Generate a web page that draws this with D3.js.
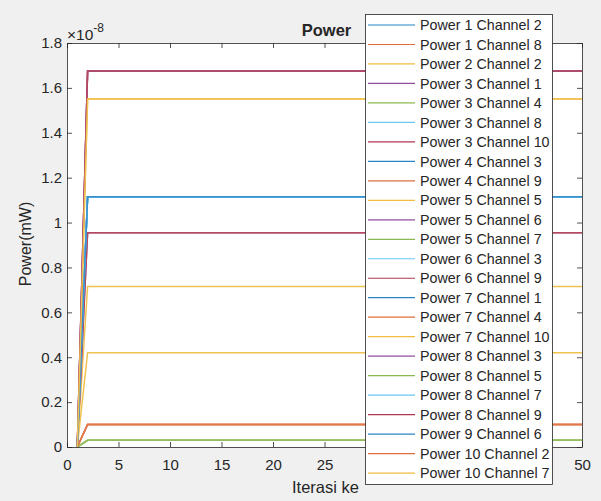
<!DOCTYPE html>
<html>
<head>
<meta charset="utf-8">
<script src="https://cdn.jsdelivr.net/npm/d3@7/dist/d3.min.js"></script>
<style>
html,body{margin:0;padding:0;background:#f0f0f0;}
svg{display:block;}
text{font-family:"Liberation Sans",Arial,Helvetica,sans-serif;fill:#262626;}
</style>
</head>
<body>
<svg id="chart" width="601" height="501"></svg>
<script>
// ---- data ----
const seriesNames = [
  "Power 1 Channel 2","Power 1 Channel 8","Power 2 Channel 2","Power 3 Channel 1",
  "Power 3 Channel 4","Power 3 Channel 8","Power 3 Channel 10","Power 4 Channel 3",
  "Power 4 Channel 9","Power 5 Channel 5","Power 5 Channel 6","Power 5 Channel 7",
  "Power 6 Channel 3","Power 6 Channel 9","Power 7 Channel 1","Power 7 Channel 4",
  "Power 7 Channel 10","Power 8 Channel 3","Power 8 Channel 5","Power 8 Channel 7",
  "Power 8 Channel 9","Power 9 Channel 6","Power 10 Channel 2","Power 10 Channel 7"
];
// power (x1e-8 mW) at iteration 1 (start) and from iteration 2 to 50 (steady)
const startValues = [0,0,0,0,0,0,0,0,0,0,0,0,0,0,0,0,0,0,0,0,0,0,0,0];
const steadyValues = [
  1.115, 0.10, 1.55, 1.675,
  0.03, 1.115, 1.675, 1.115,
  0.10, 0.715, 0.955, 0.03,
  1.115, 0.955, 1.115, 0.10,
  0.42, 1.675, 0.03, 1.115,
  1.675, 1.115, 0.10, 1.55
];
const iterKeys = [1, 2, 50];           // iteration where each segment vertex lies
const xTicks = [0,5,10,15,20,25,30,35,40,45,50];
const yTicks = [0,0.2,0.4,0.6,0.8,1.0,1.2,1.4,1.6,1.8];
const yTickLabels = ["0","0.2","0.4","0.6","0.8","1","1.2","1.4","1.6","1.8"];
const colorCycle = ["#0072BD","#D95319","#EDB120","#7E2F8E","#77AC30","#4DBEEE","#A2142F"];
const titleText = "Power";
const xLabel = "Iterasi ke";
const yLabel = "Power(mW)";

// ---- layout ----
const svg = d3.select("#chart");
const L = 67, R = 582, T = 43, B = 447;
const x = d3.scaleLinear().domain([0,50]).range([L,R]);
const y = d3.scaleLinear().domain([0,1.8]).range([B,T]);
const color = i => colorCycle[i % colorCycle.length];

svg.append("rect").attr("width",601).attr("height",501).attr("fill","#f0f0f0");
svg.append("rect").attr("x",L).attr("y",T).attr("width",R-L).attr("height",B-T).attr("fill","#fff");

// title
svg.append("text").attr("x",(L+R)/2+2).attr("y",36).attr("text-anchor","middle")
  .attr("font-weight","bold").style("font-size","16.5px").text(titleText);

// lines
const data = seriesNames.map((name,i)=>({
  name, i,
  pts: [[iterKeys[0], startValues[i]], [iterKeys[1], steadyValues[i]], [iterKeys[2], steadyValues[i]]]
}));
const line = d3.line().x(d=>x(d[0])).y(d=>y(d[1]));
const g = svg.append("g").attr("opacity",0.78);
g.selectAll("path").data(data).enter().append("path")
  .attr("d",d=>line(d.pts)).attr("fill","none")
  .attr("stroke",d=>color(d.i)).attr("stroke-width",1.5);

// axes
const axisCol = "#262626";
const xAxisB = d3.axisBottom(x).tickValues(xTicks).tickSizeInner(-5).tickSizeOuter(0).tickPadding(12).tickFormat(d3.format("d"));
const xAxisT = d3.axisTop(x).tickValues(xTicks).tickSizeInner(-5).tickSizeOuter(0).tickFormat("");
const yAxisL = d3.axisLeft(y).tickValues(yTicks).tickSizeInner(-5).tickSizeOuter(0).tickPadding(5).tickFormat((d,i)=>yTickLabels[i]);
const yAxisR = d3.axisRight(y).tickValues(yTicks).tickSizeInner(-5).tickSizeOuter(0).tickFormat("");
function style(sel){
  sel.select(".domain").attr("stroke",axisCol).attr("stroke-width",0.8);
  sel.selectAll(".tick line").attr("stroke",axisCol).attr("stroke-width",0.8);
  sel.selectAll(".tick text").attr("fill",axisCol)
    .style("font-size","15px")
    .style("font-family",'"Liberation Sans",Arial,sans-serif');
}
svg.append("g").attr("transform",`translate(0,${B})`).call(xAxisB).call(style);
svg.append("g").attr("transform",`translate(0,${T})`).call(xAxisT).call(style);
svg.append("g").attr("transform",`translate(${L},0)`).call(yAxisL).call(style);
svg.append("g").attr("transform",`translate(${R},0)`).call(yAxisR).call(style);

// exponent
const ex = svg.append("text").attr("x",67).attr("y",40).style("font-size","15.5px").attr("fill","#404040");
ex.append("tspan").text("\u00d710");
ex.append("tspan").attr("dy",-8).style("font-size","12px").text("-8");

// axis labels
svg.append("text").attr("x",(L+R)/2+1).attr("y",493).attr("text-anchor","middle")
  .style("font-size","16.5px").text(xLabel);
svg.append("text").attr("transform",`translate(31,${(T+B)/2 - 1}) rotate(-90)`)
  .attr("text-anchor","middle").style("font-size","16px").text(yLabel);

// legend
const lgX = 365, lgY = 14, lgW = 187, lgH = 470, rowH = 19.48, row0 = 25;
const lg = svg.append("g");
lg.append("rect").attr("x",lgX+0.5).attr("y",lgY+0.5).attr("width",lgW).attr("height",lgH)
  .attr("fill","#fff").attr("stroke","#262626").attr("stroke-width",0.8);
const items = lg.selectAll("g.item").data(data).enter().append("g")
  .attr("transform",d=>`translate(0,${row0 + d.i*rowH})`);
items.append("line").attr("x1",368).attr("x2",415).attr("y1",0).attr("y2",0)
  .attr("stroke",d=>color(d.i)).attr("stroke-width",1.2).attr("stroke-opacity",0.85);
items.append("text").attr("x",420).attr("y",0).attr("dy","0.36em")
  .style("font-size","14.3px").text(d=>d.name);
</script>
</body>
</html>
